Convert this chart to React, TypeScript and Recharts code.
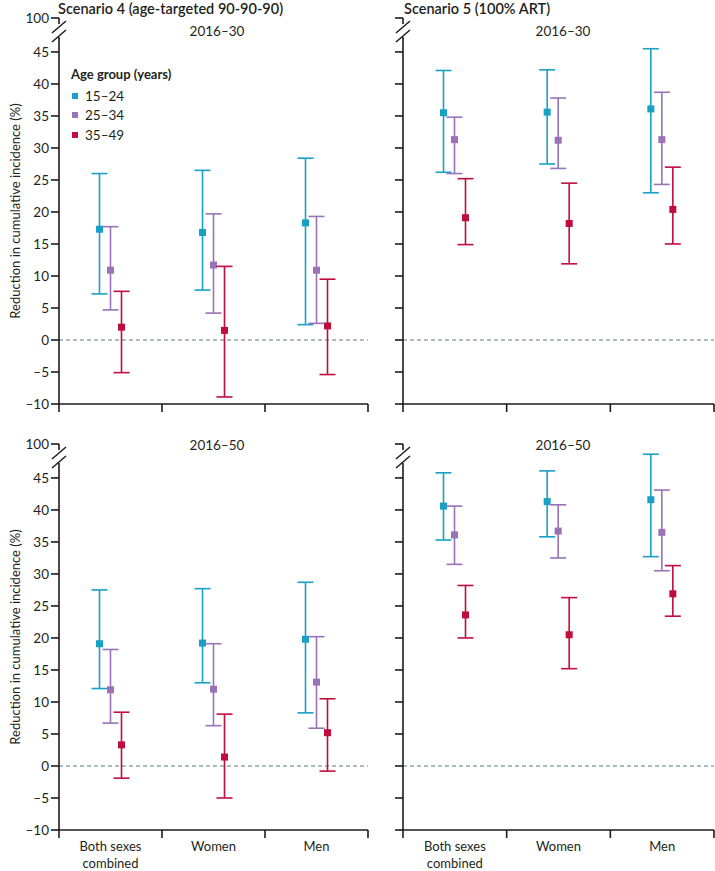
import { ComposedChart, Bar, ErrorBar, XAxis, YAxis, ReferenceLine, Legend } from 'recharts';

const categories = ['Both sexes\ncombined', 'Women', 'Men'];
const ageGroups = ['15–24', '25–34', '35–49'];
const groupColors = ['#19a0c5', '#9a72b6', '#c00d3d'];

// [estimate, lower, upper] for Both sexes, Women, Men
const s4p30Young = [[17.3, 7.2, 26.0], [16.8, 7.8, 26.5], [18.3, 2.4, 28.4]];
const s4p30Mid = [[10.9, 4.7, 17.7], [11.7, 4.2, 19.7], [10.9, 2.6, 19.3]];
const s4p30Old = [[2.0, -5.1, 7.6], [1.5, -8.9, 11.5], [2.2, -5.4, 9.5]];

const s5p30Young = [[35.5, 26.2, 42.1], [35.6, 27.5, 42.2], [36.1, 23.0, 45.5]];
const s5p30Mid = [[31.3, 26.0, 34.8], [31.2, 26.8, 37.8], [31.3, 24.3, 38.7]];
const s5p30Old = [[19.1, 14.9, 25.2], [18.2, 11.9, 24.5], [20.4, 15.0, 27.0]];

const s4p50Young = [[19.1, 12.1, 27.5], [19.2, 13.0, 27.7], [19.8, 8.3, 28.7]];
const s4p50Mid = [[11.9, 6.7, 18.2], [12.0, 6.3, 19.1], [13.1, 5.9, 20.2]];
const s4p50Old = [[3.3, -1.9, 8.4], [1.4, -5.0, 8.1], [5.2, -0.8, 10.5]];

const s5p50Young = [[40.6, 35.3, 45.8], [41.3, 35.8, 46.1], [41.6, 32.7, 48.7]];
const s5p50Mid = [[36.1, 31.5, 40.6], [36.7, 32.5, 40.8], [36.5, 30.5, 43.1]];
const s5p50Old = [[23.6, 20.0, 28.2], [20.5, 15.2, 26.3], [26.9, 23.4, 31.3]];

const yTicks = [-10, -5, 0, 5, 10, 15, 20, 25, 30, 35, 40, 45];
const breakLabel = '100';
const breakPos = 50.3; // where the broken axis puts "100"

const ink = '#231f20';
const axisStroke = '#1c1c1c';
const FONT = 'Lato, "Open Sans", sans-serif';
const X_TICK_MARGIN = 12;

function buildData(groups: number[][][]) {
  return categories.map((cat, i) => {
    const row: Record<string, unknown> = { cat };
    groups.forEach((g, k) => {
      const [est, lo, hi] = g[i];
      row[`v${k}`] = est;
      row[`e${k}`] = [est - lo, hi - est];
    });
    return row;
  });
}

const fmtTick = (v: number) => (v < 0 ? `–${Math.abs(v)}` : String(v));

function YTick(props: any) {
  const { x, y, payload, showLabel } = props;
  const axisX = x + 10;
  const isBreak = payload.value === breakPos;
  return (
    <g>
      {showLabel && (
        <text x={x} y={y} dy="0.36em" textAnchor="end" fontSize={13.5} fill={ink}>
          {isBreak ? breakLabel : fmtTick(payload.value)}
        </text>
      )}
      {isBreak && (
        <g stroke={axisStroke} strokeWidth={1.5}>
          <rect x={axisX - 3} y={y + 6} width={6} height={13} fill="#fff" stroke="none" />
          <line x1={axisX - 7} y1={y + 15} x2={axisX + 7} y2={y + 3} />
          <line x1={axisX - 7} y1={y + 24} x2={axisX + 7} y2={y + 12} />
        </g>
      )}
    </g>
  );
}

// category label at band centre, tick marks at the band edges
function CatTick(props: any) {
  const { x, y, payload, index, showLabel, band } = props;
  const axisY = y - X_TICK_MARGIN;
  const lines = String(payload.value).split('\n');
  const edges = index === categories.length - 1 ? [x - band / 2, x + band / 2] : [x - band / 2];
  return (
    <g>
      {edges.map((ex, i) => (
        <line key={i} x1={ex} x2={ex} y1={axisY} y2={axisY + 8} stroke={axisStroke} strokeWidth={1.6} />
      ))}
      {showLabel && (
        <text x={x} y={y} textAnchor="middle" fontSize={13} fill={ink}>
          {lines.map((l, i) => (
            <tspan key={i} x={x} dy={i === 0 ? '0.71em' : 17}>
              {l}
            </tspan>
          ))}
        </text>
      )}
    </g>
  );
}

const Marker = (props: any) => {
  const { x, y, width, fill } = props;
  const s = 7;
  return <rect x={x + width / 2 - s / 2} y={y - s / 2} width={s} height={s} fill={fill} />;
};

function renderLegend({ payload }: any) {
  return (
    <div style={{ fontFamily: FONT, color: ink }}>
      <div style={{ fontSize: 13, fontWeight: 700, marginBottom: 4 }}>Age group (years)</div>
      {(payload || []).map((p: any) => (
        <div key={p.value} style={{ display: 'flex', alignItems: 'center', fontSize: 13.5, height: 19.5 }}>
          <span style={{ width: 6, height: 6, background: p.color, marginRight: 7, marginLeft: 1 }} />
          {p.value}
        </div>
      ))}
    </div>
  );
}

interface PanelProps {
  groups: number[][][];
  width: number;
  height: number;
  top: number;
  showYLabels: boolean;
  showXLabels: boolean;
  showLegend?: boolean;
  yAxisWidth: number;
  right: number;
}

function Panel({ groups, width, height, top, showYLabels, showXLabels, showLegend, yAxisWidth, right }: PanelProps) {
  const data = buildData(groups);
  const band = (width - yAxisWidth - right) / categories.length;
  return (
    <ComposedChart
      width={width}
      height={height}
      data={data}
      margin={{ top, right, bottom: showXLabels ? 0 : 6, left: 0 }}
      barGap={4}
    >
      <XAxis
        dataKey="cat"
        type="category"
        axisLine={{ stroke: axisStroke, strokeWidth: 1.6 }}
        tickLine={false}
        tickSize={0}
        tickMargin={X_TICK_MARGIN}
        height={showXLabels ? 41 : 10}
        interval={0}
        tick={(p: any) => <CatTick {...p} showLabel={showXLabels} band={band} />}
      />
      <YAxis
        type="number"
        domain={[-10, breakPos]}
        ticks={[...yTicks, breakPos]}
        interval={0}
        allowDataOverflow
        width={yAxisWidth}
        tickSize={8}
        tickMargin={2}
        axisLine={{ stroke: axisStroke, strokeWidth: 1.6 }}
        tickLine={{ stroke: axisStroke, strokeWidth: 1.6 }}
        tick={(p: any) => <YTick {...p} showLabel={showYLabels} />}
        label={
          showYLabels
            ? {
                value: 'Reduction in cumulative incidence  (%)',
                angle: -90,
                position: 'insideLeft',
                offset: 15,
                style: { textAnchor: 'middle', fontSize: 13, fill: ink },
              }
            : undefined
        }
      />
      <ReferenceLine y={0} stroke="#5b7b89" strokeWidth={1.2} strokeDasharray="4 3" />
      {ageGroups.map((name, k) => (
        <Bar
          key={name}
          dataKey={`v${k}`}
          name={name}
          fill={groupColors[k]}
          barSize={7}
          shape={<Marker />}
          isAnimationActive={false}
        >
          <ErrorBar dataKey={`e${k}`} width={8} strokeWidth={1.6} stroke={groupColors[k]} direction="y" />
        </Bar>
      ))}
      {showLegend && (
        <Legend
          layout="vertical"
          align="center"
          verticalAlign="middle"
          wrapperStyle={{ top: 66, left: 71, width: 'auto', height: 'auto' }}
          content={renderLegend}
        />
      )}
    </ComposedChart>
  );
}

const textBase = { position: 'absolute' as const, fontFamily: FONT, color: ink, whiteSpace: 'nowrap' as const };

export default function App() {
  return (
    <div style={{ position: 'absolute', left: 0, top: 0, width: 715, height: 871, background: '#fff', fontFamily: FONT }}>
      <div style={{ position: 'absolute', left: 0, top: 0 }}>
        <Panel groups={[s4p30Young, s4p30Mid, s4p30Old]} width={372} height={420} top={18} showYLabels showXLabels={false} showLegend yAxisWidth={59} right={4} />
      </div>
      <div style={{ position: 'absolute', left: 360, top: 0 }}>
        <Panel groups={[s5p30Young, s5p30Mid, s5p30Old]} width={355} height={420} top={18} showYLabels={false} showXLabels={false} yAxisWidth={43} right={1} />
      </div>
      <div style={{ position: 'absolute', left: 0, top: 420 }}>
        <Panel groups={[s4p50Young, s4p50Mid, s4p50Old]} width={372} height={451} top={24} showYLabels showXLabels yAxisWidth={59} right={4} />
      </div>
      <div style={{ position: 'absolute', left: 360, top: 420 }}>
        <Panel groups={[s5p50Young, s5p50Mid, s5p50Old]} width={355} height={451} top={24} showYLabels={false} showXLabels yAxisWidth={43} right={1} />
      </div>

      <div style={{ ...textBase, left: 58, top: 0, fontSize: 14.5, fontWeight: 600, lineHeight: '18px' }}>
        Scenario 4 (age-targeted 90-90-90)
      </div>
      <div style={{ ...textBase, left: 404, top: 0, fontSize: 14.5, fontWeight: 600, lineHeight: '18px' }}>
        Scenario 5 (100% ART)
      </div>
      <div style={{ ...textBase, left: 217, top: 23, fontSize: 13.5, transform: 'translateX(-50%)', lineHeight: '16px' }}>2016–30</div>
      <div style={{ ...textBase, left: 563, top: 23, fontSize: 13.5, transform: 'translateX(-50%)', lineHeight: '16px' }}>2016–30</div>
      <div style={{ ...textBase, left: 217, top: 437, fontSize: 13.5, transform: 'translateX(-50%)', lineHeight: '16px' }}>2016–50</div>
      <div style={{ ...textBase, left: 563, top: 437, fontSize: 13.5, transform: 'translateX(-50%)', lineHeight: '16px' }}>2016–50</div>
    </div>
  );
}
